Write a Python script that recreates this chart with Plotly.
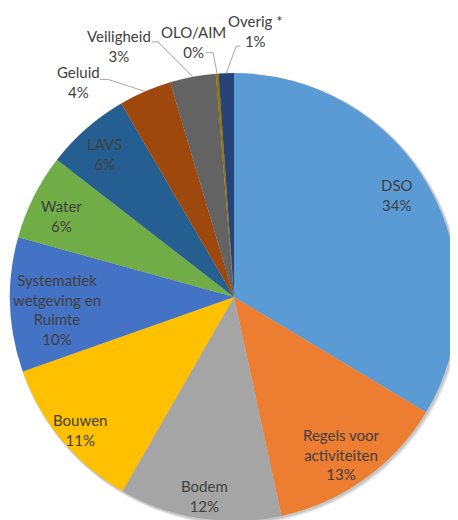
import math
import plotly.graph_objects as go

# ---- data ----
labels = ["DSO", "Regels voor<br>activiteiten", "Bodem", "Bouwen",
          "Systematiek<br>wetgeving en<br>Ruimte", "Water", "LAVS", "Geluid",
          "Veiligheid", "OLO/AIM", "Overig *"]
values = [33.6, 13.0, 11.7, 11.3, 9.7, 6.2, 6.1, 3.8, 3.3, 0.2, 1.1]

# ---- style ----
colors = ["#5B9BD5", "#ED7D31", "#A5A5A5", "#FFC000", "#4472C4", "#70AD47",
          "#255E91", "#9E480E", "#636363", "#997300", "#264478"]
W, H = 458, 520
OFF = 8                              # page body margin
CX, CY, R = 234 - OFF, 297 - OFF, 224  # pixel centre / radius of pie (figure coords)
FONT = dict(family="Lato, Calibri, sans-serif", size=15, color="#404040")
# inside labels: radius fraction and angle tweak (deg); outside labels: None
inside_r = [0.86, 0.85, 0.90, 0.91, 0.79, 0.85, 0.86, None, None, None, None]
angle_tweak = [-2.5, 1.5, -0.5, -1.0, -2.0, -1.5, -1.0, 0, 0, 0, 0]
# outside label layout relative to slice edge point (px): text centre, line start, elbow
outside = {
    7: dict(text=(-67, -9), start=(-45, -12), elbow=(-37, -12)),
    8: dict(text=(-74, -31), start=(-41, -35), elbow=(-35, -35)),
    9: dict(text=(-24, -32), start=(-11, -21), elbow=(-4, -21)),
    10: dict(text=(29, -42), start=(14, -27), elbow=(10, -27)),
}


def px2paper(x, y):
    return x / W, 1 - y / H


def domain(cx, cy, r):
    return dict(x=[(cx - r) / W, (cx + r) / W], y=[(H - cy - r) / H, (H - cy + r) / H])


fig = go.Figure()
# soft shadow behind the pie
for k, (d, a) in enumerate([(4, 0.06), (3, 0.08), (2, 0.10)]):
    fig.add_trace(go.Pie(values=[1], labels=["s"], sort=False, textinfo="none",
                         hoverinfo="skip", showlegend=False,
                         marker=dict(colors=[f"rgba(0,0,0,{a})"], line=dict(width=0)),
                         domain=domain(CX + d * 0.6, CY + d * 0.6, R + d * 0.4)))
fig.add_trace(go.Pie(
    labels=labels, values=values, sort=False, direction="clockwise", rotation=0,
    marker=dict(colors=colors, line=dict(width=0)),
    textinfo="none", hoverinfo="label+percent", showlegend=False,
    domain=domain(CX, CY, R),
))

total = sum(values)
cum = 0.0
annotations, shapes = [], []
for i, (lab, v) in enumerate(zip(labels, values)):
    mid = (cum + v / 2) / total * 2 * math.pi
    cum += v
    pct = f"{round(v / total * 100):.0f}%"
    sx, sy = math.sin(mid), -math.cos(mid)
    if inside_r[i] is not None:
        m2 = mid + math.radians(angle_tweak[i])
        x, y = CX + inside_r[i] * R * math.sin(m2), CY - inside_r[i] * R * math.cos(m2)
    else:
        ex, ey = CX + R * sx, CY + R * sy
        o = outside[i]
        x, y = ex + o["text"][0], ey + o["text"][1]
        pts = [(ex + o["start"][0], ey + o["start"][1]),
               (ex + o["elbow"][0], ey + o["elbow"][1]), (ex, ey)]
        pp = [px2paper(*p) for p in pts]
        path = "M {} {} L {} {} L {} {}".format(pp[0][0], pp[0][1], pp[1][0], pp[1][1],
                                                pp[2][0], pp[2][1])
        shapes.append(dict(type="path", path=path, xref="paper", yref="paper",
                           line=dict(color="#A6A6A6", width=1)))
    px, py = px2paper(x, y)
    annotations.append(dict(x=px, y=py, xref="paper", yref="paper", showarrow=False,
                            xanchor="center", yanchor="middle",
                            text=f"{lab}<br>{pct}", font=FONT, align="center"))

fig.update_layout(width=W, height=H, margin=dict(l=0, r=0, t=0, b=0),
                  paper_bgcolor="white", plot_bgcolor="white",
                  annotations=annotations, shapes=shapes)
fig.write_html("out.html")
